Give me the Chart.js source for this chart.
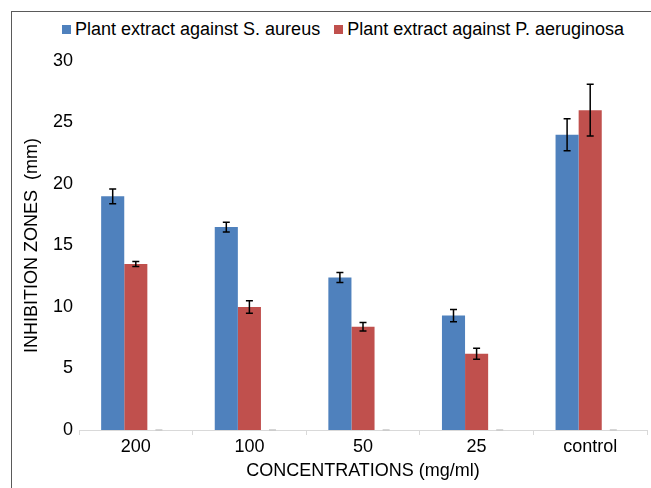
<!DOCTYPE html>
<html lang="en">
<head>
  <meta charset="UTF-8" />
  <title>Inhibition zones</title>
  <script src="https://cdn.jsdelivr.net/npm/chart.js"></script>
  <style>
    body {
      margin: 0;
      width: 651px;
      height: 488px;
      overflow: hidden;
      background: #fff;
      font-family: "Liberation Sans", Arial, sans-serif;
      position: relative;
    }
    .frame {
      position: absolute;
      left: 11px;
      top: 11px;
      width: 700px;
      height: 600px;
      border: 1px solid #5a5a5a;
    }
    .legend {
      position: absolute;
      left: 62px;
      top: 19px;
      display: flex;
      gap: 14px;
      font-size: 18px;
      color: #000;
      white-space: nowrap;
    }
    .legend span.item { display: flex; align-items: center; }
    .legend i {
      display: inline-block;
      width: 9px;
      height: 9px;
      margin-right: 4px;
    }
    #chart {
      position: absolute;
      left: 0;
      top: 0;
    }
  </style>
</head>
<body>
  <div class="frame"></div>
  <div class="legend" id="legend"></div>
  <canvas id="chart" width="651" height="488"></canvas>
<script>
  // datos
  const categories = ['200', '100', '50', '25', 'control'];
  const seriesNames = ['Plant extract against S. aureus', 'Plant extract against P. aeruginosa'];
  const saureus = [19, 16.5, 12.4, 9.3, 24];
  const saureusErr = [0.6, 0.4, 0.4, 0.5, 1.3];
  const paeruginosa = [13.5, 10, 8.4, 6.2, 26];
  const paeruginosaErr = [0.2, 0.5, 0.35, 0.45, 2.1];
  const emptySeries = [0, 0, 0, 0, 0];
  const emptyErr = [0, 0, 0, 0, 0];
  const yMin = 0, yMax = 30, yStep = 5;

  const colors = ['#4F81BD', '#C0504D', '#9BBB59'];
  const font = { family: '"Liberation Sans", Arial, sans-serif', size: 18 };

  // leyenda
  const legend = document.getElementById('legend');
  seriesNames.forEach((name, i) => {
    const item = document.createElement('span');
    item.className = 'item';
    item.innerHTML = '<i style="background:' + colors[i] + '"></i>' + name;
    legend.appendChild(item);
  });

  // barras de error
  const errorBars = {
    id: 'errorBars',
    afterDatasetsDraw(chart) {
      const ctx = chart.ctx;
      const y = chart.scales.y;
      chart.data.datasets.forEach((ds, di) => {
        const meta = chart.getDatasetMeta(di);
        ctx.save();
        ctx.strokeStyle = ds.errorColor;
        ctx.lineWidth = 1.5;
        meta.data.forEach((bar, i) => {
          const v = ds.data[i], e = ds.errors[i];
          const top = y.getPixelForValue(v + e);
          const bot = y.getPixelForValue(v - e);
          ctx.beginPath();
          ctx.moveTo(bar.x, top); ctx.lineTo(bar.x, bot);
          ctx.moveTo(bar.x - 3.5, top); ctx.lineTo(bar.x + 3.5, top);
          ctx.moveTo(bar.x - 3.5, bot); ctx.lineTo(bar.x + 3.5, bot);
          ctx.stroke();
        });
        ctx.restore();
      });
    }
  };

  new Chart(document.getElementById('chart'), {
    type: 'bar',
    data: {
      labels: categories,
      datasets: [
        { label: seriesNames[0], data: saureus, errors: saureusErr, errorColor: '#000', backgroundColor: colors[0] },
        { label: seriesNames[1], data: paeruginosa, errors: paeruginosaErr, errorColor: '#000', backgroundColor: colors[1] },
        { label: '', data: emptySeries, errors: emptyErr, errorColor: '#c8c8c8', backgroundColor: colors[2] }
      ]
    },
    options: {
      responsive: false,
      animation: false,
      events: [],
      categoryPercentage: 0.61,
      barPercentage: 1,
      layout: { padding: { top: 61, right: 4, bottom: 0, left: 0 } },
      plugins: {
        legend: { display: false },
        tooltip: { enabled: false }
      },
      scales: {
        x: {
          afterFit(scale) { scale.height = 58; },
          grid: { drawOnChartArea: false, color: '#d9d9d9', tickLength: 5 },
          border: { color: '#d9d9d9' },
          ticks: { color: '#000', font: font, padding: 1 },
          title: { display: true, text: 'CONCENTRATIONS (mg/ml)', color: '#000', font: font, padding: { top: 0, bottom: 6 } }
        },
        y: {
          min: yMin,
          max: yMax,
          afterFit(scale) { scale.width = 79; },
          grid: { display: false, drawTicks: false },
          border: { display: false },
          ticks: { stepSize: yStep, color: '#000', font: font, padding: 6 },
          title: { display: true, text: 'INHIBITION ZONES  (mm)', color: '#000', font: font, padding: { top: 21, bottom: 0 } }
        }
      }
    },
    plugins: [errorBars]
  });
</script>
</body>
</html>
